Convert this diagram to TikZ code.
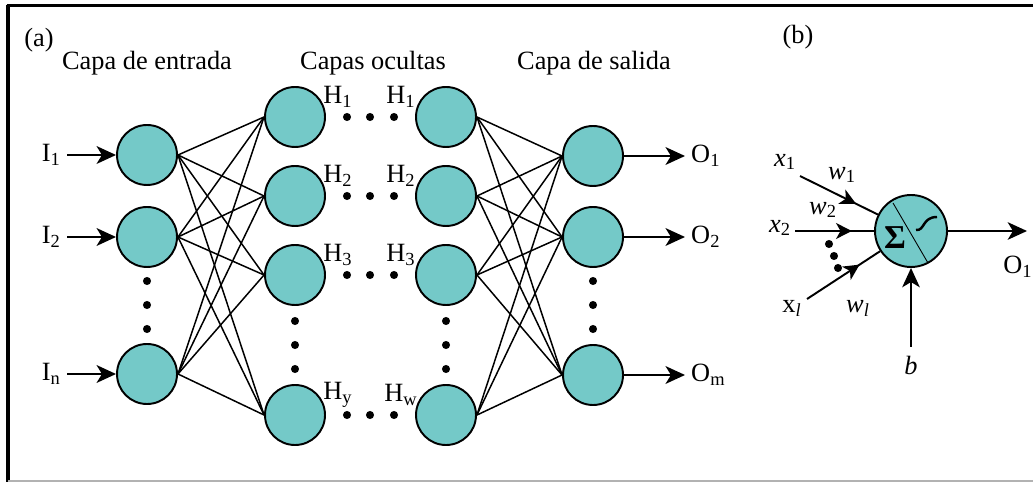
\documentclass[tikz,border=0pt]{standalone}
\usepackage{fontspec}
\setmainfont{Liberation Serif}
\usetikzlibrary{arrows.meta,positioning,decorations.markings}
\definecolor{neuron}{RGB}{116,201,200}

\begin{document}
\begin{tikzpicture}[x=0.02cm, y=-0.02cm, font=\fontsize{15}{17}\selectfont,
    unit/.style={circle, draw, line width=1.1pt, fill=neuron, minimum size=1.2cm, inner sep=0pt},
    link/.style={line width=0.85pt},
    arr/.style={-{Stealth[length=11pt, width=10pt, inset=3pt]}, line width=1.7pt},
    midarr/.style={line width=1.1pt, postaction={decorate},
      decoration={markings, mark=at position 0.72 with {\arrow{Stealth[length=9pt, width=9pt, inset=2.5pt]}}}}]
    \useasboundingbox (0,0) rectangle (1033,482);
    % frame
    \draw[line width=2.3pt] (8,482) -- (8,5.5);
    \draw[line width=1.7pt] (6.5,5.5) -- (1033,5.5);
    \draw[gray!60, line width=0.8pt] (8,481) -- (1033,481);
    % titles
    \node (lbla) at (39,40) {(a)};
    \node (tin) at (147,63) {Capa de entrada};
    \node (thid) at (373,63) {Capas ocultas};
    \node (tout) at (594,63) {Capa de salida};
    \node (lblb) at (798,37) {(b)};
    % input layer
    \foreach \y/\s [count=\k] in {155/1,237/2,374/n} {
      \node[unit] (i\k) at (147,\y) {};
      \node[anchor=east] (li\k) at (67,\y) {I\textsubscript{\s}};
      \draw[arr] (li\k) -- (i\k);
    }
    % hidden layers
    \foreach \y/\s/\t [count=\k] in {117/1/1,196/2/2,275/3/3,415/y/w} {
      \node[unit] (ha\k) at (295,\y) {};
      \node[unit] (hb\k) at (446,\y) {};
      \node (lha\k) at (338,\y-20) {H\textsubscript{\s}};
      \node (lhb\k) at (401,\y-20) {H\textsubscript{\t}};
      \foreach \x in {347,370,394}
        \fill (\x,\y) circle (2.3pt);
    }
    % output layer
    \foreach \y/\s [count=\k] in {156/1,237/2,375/m} {
      \node[unit] (o\k) at (593,\y) {};
      \node[anchor=west] (lo\k) at (685,\y) {O\textsubscript{\s}};
      \draw[arr] (o\k) -- (lo\k);
    }
    % vertical dots
    \foreach \y in {281,305,329} {
      \fill (147,\y) circle (2.3pt);
      \fill (593,\y) circle (2.3pt);
    }
    \foreach \y in {321,345,369} {
      \fill (295,\y) circle (2.3pt);
      \fill (446,\y) circle (2.3pt);
    }
    % links
    \foreach \i in {1,2,3}
      \foreach \h in {1,2,3,4} {
        \draw[link] (i\i.east) -- (ha\h.west);
        \draw[link] (hb\h.east) -- (o\i.west);
      }
    % single neuron
    \node[unit, minimum size=1.44cm] (sum) at (911,231) {};
    \draw[line width=0.5pt] (893,203) -- (928,263);
    \node (sig) at (895,238) {\fontsize{19}{19}\selectfont\textbf{Σ}};
    \draw[line width=1.4pt] (916,230) .. controls (925,231) and (922,217) .. (937,217);
    \node (x1) at (785,162) {\textit{x}\textsubscript{1}};
    \node (x2) at (780,228) {\textit{x}\textsubscript{2}};
    \node (xl) at (792,308) {x\textsubscript{\textit{l}}};
    \node (w1) at (842,175) {\textit{w}\textsubscript{1}};
    \node (w2) at (823,210) {\textit{w}\textsubscript{2}};
    \node (wl) at (858,308) {\textit{w}\textsubscript{\textit{l}}};
    \coordinate (x1s) at (800,176);
    \coordinate (x2s) at (795,231);
    \coordinate (xls) at (807,299);
    \draw[midarr] (x1s) -- (sum);
    \draw[midarr] (x2s) -- (sum);
    \draw[midarr] (xls) -- (sum);
    \foreach \x/\y in {829/244,834/256,838/268}
      \fill (\x,\y) circle (2.3pt);
    \coordinate (bs) at (911,347);
    \node (lb) at (911,365) {\textit{b}};
    \draw[arr, line width=1.2pt] (bs) -- (sum);
    \coordinate (os) at (1027,231);
    \draw[arr, line width=1.2pt] (sum) -- (os);
    \node (lob) at (1018,267) {O\textsubscript{1}};
  \end{tikzpicture}
\end{document}
